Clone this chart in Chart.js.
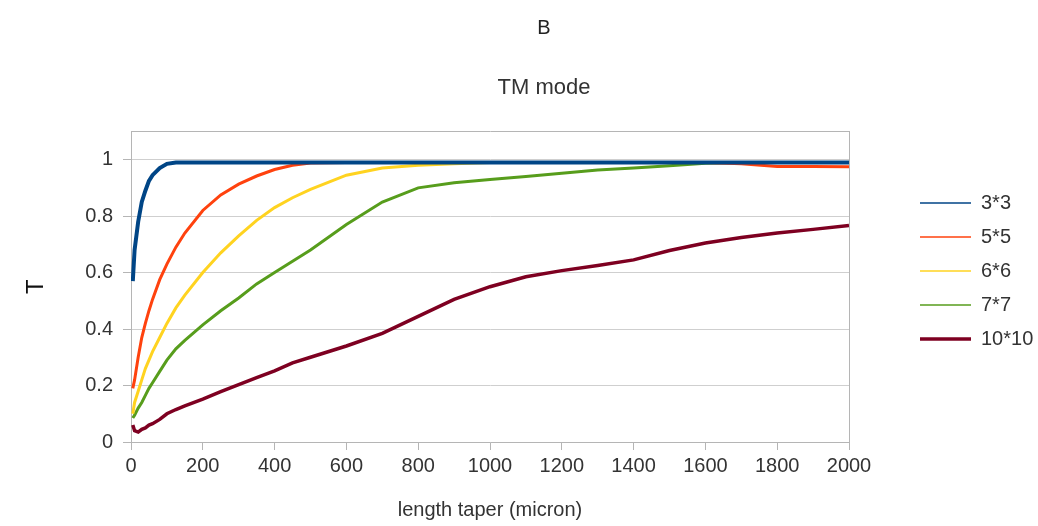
<!DOCTYPE html>
<html>
<head>
<meta charset="utf-8">
<script src="https://cdn.jsdelivr.net/npm/chart.js@4/dist/chart.umd.min.js"></script>
<style>
    body { margin: 0; background: #fff; }
    #wrap { width: 1038px; height: 526px; }
</style>
</head>
<body>
<div id="wrap"><canvas id="taperChart" width="1038" height="526"></canvas></div>
<script>
/* taper length (micron) shared by all series */
const taperLength = [5, 10, 20, 30, 40, 50, 60, 80, 100, 125, 150, 200, 250, 300, 350, 400, 450, 500,
    600, 700, 800, 900, 1000, 1100, 1200, 1300, 1400, 1500, 1600, 1700, 1800, 1900, 2000];

const seriesNames = ["3*3", "5*5", "6*6", "7*7", "10*10"];

const t3x3 = [0.57, 0.68, 0.78, 0.85, 0.89, 0.925, 0.945, 0.97, 0.985, 0.99, 0.99, 0.99, 0.99, 0.99, 0.99, 0.99, 0.99, 0.99,
    0.99, 0.99, 0.99, 0.99, 0.99, 0.99, 0.99, 0.99, 0.99, 0.99, 0.99, 0.99, 0.99, 0.99, 0.99];
const t5x5 = [0.19, 0.22, 0.30, 0.37, 0.42, 0.465, 0.505, 0.575, 0.63, 0.69, 0.74, 0.82, 0.875, 0.913, 0.942, 0.965, 0.98, 0.988,
    0.99, 0.99, 0.99, 0.99, 0.99, 0.99, 0.99, 0.99, 0.99, 0.99, 0.99, 0.985, 0.976, 0.976, 0.975];
const t6x6 = [0.10, 0.14, 0.18, 0.22, 0.26, 0.29, 0.32, 0.37, 0.42, 0.475, 0.52, 0.60, 0.67, 0.73, 0.785, 0.83, 0.865, 0.895,
    0.945, 0.97, 0.98, 0.985, 0.99, 0.99, 0.99, 0.99, 0.99, 0.99, 0.99, 0.99, 0.99, 0.99, 0.99];
const t7x7 = [0.085, 0.095, 0.12, 0.14, 0.165, 0.19, 0.21, 0.25, 0.29, 0.33, 0.36, 0.415, 0.465, 0.51, 0.56, 0.60, 0.64, 0.68,
    0.77, 0.85, 0.90, 0.918, 0.93, 0.94, 0.952, 0.963, 0.97, 0.978, 0.987, 0.99, 0.99, 0.99, 0.99];
const t10x10 = [0.06, 0.04, 0.035, 0.045, 0.05, 0.06, 0.065, 0.08, 0.10, 0.115, 0.128, 0.152, 0.178, 0.203, 0.228, 0.252, 0.28, 0.30,
    0.34, 0.385, 0.445, 0.505, 0.55, 0.585, 0.607, 0.625, 0.645, 0.678, 0.705, 0.724, 0.74, 0.753, 0.767];

const yTicks = [0, 0.2, 0.4, 0.6, 0.8, 1];
const xTicks = [0, 200, 400, 600, 800, 1000, 1200, 1400, 1600, 1800, 2000];

const seriesValues = [t3x3, t5x5, t6x6, t7x7, t10x10];
const seriesColors = ["#004586", "#ff420e", "#ffd320", "#579d1c", "#7e0021"];
const lineWidths = [4, 3, 3, 3, 3.5];
const legendWidths = [1.5, 1.5, 1.5, 1.5, 3.5];

Chart.defaults.font.family = "'Liberation Sans', Arial, sans-serif";
Chart.defaults.color = "#333";

const gridColor = "#cfcfcf";
const borderColor = "#b5b5b5";

const datasets = seriesNames.map((name, i) => ({
    label: name,
    data: taperLength.map((x, j) => ({ x: x, y: seriesValues[i][j] })),
    borderColor: seriesColors[i],
    backgroundColor: seriesColors[i],
    borderWidth: lineWidths[i],
    pointRadius: 0,
    tension: 0,
    fill: false,
}));

new Chart(document.getElementById("taperChart"), {
    type: "line",
    data: { datasets: datasets },
    options: {
        responsive: false,
        animation: false,
        devicePixelRatio: 1,
        layout: {
            padding: { top: 16, right: 0, bottom: 0, left: 50 },
        },
        plugins: {
            title: {
                display: true,
                text: "B",
                font: { size: 20, weight: "normal" },
                color: "#222",
                padding: { top: 0, bottom: 0 },
            },
            subtitle: {
                display: true,
                text: "TM mode",
                font: { size: 22 },
                color: "#333",
                padding: { top: 35, bottom: 30 },
            },
            legend: {
                position: "right",
                align: "center",
                maxWidth: 132,
                labels: {
                    font: { size: 20 },
                    padding: 14,
                    usePointStyle: true,
                    pointStyle: "line",
                    pointStyleWidth: 51,
                    generateLabels: function (chart) {
                        const labels = Chart.defaults.plugins.legend.labels.generateLabels(chart);
                        labels.forEach((label, i) => {
                            label.lineWidth = legendWidths[i];
                            label.strokeStyle = seriesColors[i];
                            label.pointStyle = "line";
                        });
                        return labels;
                    },
                },
            },
            tooltip: { enabled: false },
        },
        scales: {
            x: {
                type: "linear",
                min: 0,
                max: 2000,
                afterBuildTicks: (scale) => { scale.ticks = xTicks.map(v => ({ value: v })); },
                afterFit: (scale) => { scale.height = 84; },
                ticks: {
                    font: { size: 20 },
                    padding: 4,
                    maxRotation: 0,
                    callback: (value) => String(value),
                },
                grid: { drawOnChartArea: false, drawTicks: true, tickLength: 8, color: borderColor },
                border: { display: true, color: borderColor },
                title: {
                    display: true,
                    text: "length taper (micron)",
                    font: { size: 20 },
                    padding: { top: 0, bottom: 4 },
                },
            },
            x2: {
                type: "linear",
                position: "top",
                afterFit: (scale) => { scale.height = 0; },
                ticks: { display: false },
                grid: { display: false },
                border: { display: true, color: borderColor },
            },
            y: {
                min: 0,
                max: 1.1,
                afterBuildTicks: (scale) => { scale.ticks = yTicks.map(v => ({ value: v })); },
                afterFit: (scale) => { scale.width = 81; },
                ticks: {
                    font: { size: 20 },
                    padding: 10,
                    callback: (value) => String(value),
                },
                grid: { color: gridColor, tickColor: borderColor, tickLength: 8 },
                border: { display: true, color: borderColor },
                title: {
                    display: true,
                    text: "T",
                    font: { size: 24 },
                    color: "#111",
                    padding: { top: -28 },
                },
            },
            y2: {
                type: "linear",
                position: "right",
                afterFit: (scale) => { scale.width = 57; },
                ticks: { display: false },
                grid: { display: false },
                border: { display: true, color: borderColor },
            },
        },
    },
});
</script>
</body>
</html>
